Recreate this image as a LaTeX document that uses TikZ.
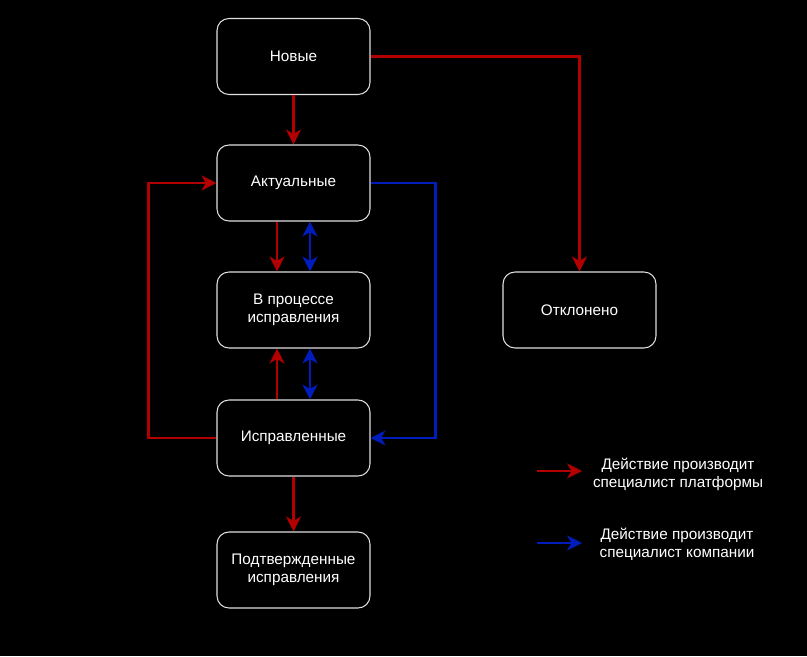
\documentclass[tikz,border=0pt]{standalone}
\usepackage{fontspec}
\setmainfont{Liberation Sans}
\usepackage{tikz}
\usetikzlibrary{arrows.meta}
\definecolor{platred}{HTML}{B20000}
\definecolor{compblue}{HTML}{001DBC}

\begin{document}
\begin{tikzpicture}[x=0.02cm,y=-0.02cm,
    state/.style={draw=white!88!black,line width=0.6pt,rounded corners=6.8pt,
      minimum width=3.06cm,minimum height=1.52cm,text=white,align=center,
      font=\fontsize{8.7}{10}\selectfont},
    legendtext/.style={text=white,align=center,font=\fontsize{8.7}{10.2}\selectfont},
    flow/.style={line width=1.3pt,-{Stealth[length=8.5pt,width=8.5pt,inset=2.5pt]}},
    both/.style={line width=1.3pt,{Stealth[length=8.5pt,width=8.5pt,inset=2.5pt]}-{Stealth[length=8.5pt,width=8.5pt,inset=2.5pt]}}]
  \fill[black] (0,0) rectangle (807,656);
  \useasboundingbox (0,0) rectangle (807,656);
  \node[state] (novye) at (293.5,56.5) {Новые};
  \node[state] (aktual) at (293.5,183) {Актуальные};
  \node[state] (process) at (293.5,310) {В процессе\\исправления};
  \node[state] (ispr) at (293.5,438) {Исправленные};
  \node[state] (podtv) at (293.5,570) {Подтвержденные\\исправления};
  \node[state] (otkl) at (579.5,310) {Отклонено};
  \draw[flow,platred] (novye) -- (aktual);
  \draw[flow,platred] (novye.east) -| (otkl.north);
  \draw[flow,platred] ([xshift=-0.33cm]aktual.south) -- ([xshift=-0.33cm]process.north);
  \draw[both,compblue] ([xshift=0.33cm]aktual.south) -- ([xshift=0.33cm]process.north);
  \draw[flow,platred] ([xshift=-0.33cm]ispr.north) -- ([xshift=-0.33cm]process.south);
  \draw[both,compblue] ([xshift=0.33cm]ispr.north) -- ([xshift=0.33cm]process.south);
  \draw[flow,platred] (ispr.west) -- ++(-68,0) |- (aktual.west);
  \draw[flow,compblue] (aktual.east) -- ++(65,0) |- (ispr.east);
  \draw[flow,platred] (ispr) -- (podtv);
  \coordinate (redA) at (537,471);
  \coordinate (redB) at (582,471);
  \coordinate (blueA) at (537,543);
  \coordinate (blueB) at (582,543);
  \draw[flow,platred] (redA) -- (redB);
  \draw[flow,compblue] (blueA) -- (blueB);
  \node[legendtext] (redtext) at (678,474) {Действие производит\\специалист платформы};
  \node[legendtext] (bluetext) at (677,544) {Действие производит\\специалист компании};
\end{tikzpicture}
\end{document}
